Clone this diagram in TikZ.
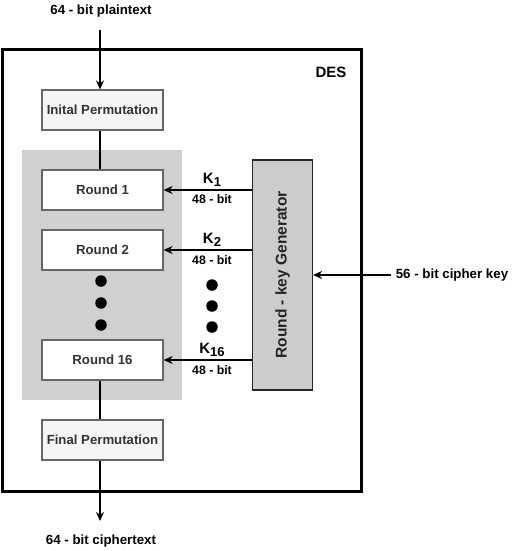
\documentclass[tikz,border=0pt]{standalone}
\usepackage{fontspec}
\setmainfont{Liberation Sans}
\usetikzlibrary{arrows.meta}
\definecolor{boxfill}{HTML}{F5F5F5}
\definecolor{boxline}{HTML}{666666}
\definecolor{boxtext}{HTML}{333333}
\definecolor{grayzone}{HTML}{D0D0D0}
\definecolor{genfill}{HTML}{CCCCCC}
\newcommand{\ksub}[1]{\raisebox{-3.5pt}{\fontsize{13}{15}\selectfont #1}}
\tikzset{
  stagebox/.style={draw=boxline, line width=1.2pt, fill=boxfill, minimum width=121pt, minimum height=40pt, inner sep=0pt, font=\fontsize{13.2}{15}\selectfont\bfseries, text=boxtext},
  roundbox/.style={stagebox, fill=white},
  conn/.style={line width=1.3pt},
  arr/.style={conn, -{Stealth[length=9pt,width=8pt,inset=3pt]}},
  lbl/.style={font=\fontsize{13.3}{15}\selectfont\bfseries, inner sep=0pt},
  klbl/.style={font=\fontsize{15}{17}\selectfont\bfseries, inner sep=0pt},
  bitlbl/.style={font=\fontsize{12.3}{14}\selectfont\bfseries, inner sep=0pt},
  dot/.style={circle, fill=black, minimum size=11.5pt, inner sep=0pt},
}
\begin{document}
\begin{tikzpicture}[x=1pt,y=-1pt]
\useasboundingbox (0,0) rectangle (513,551);
% outer DES box
\node[draw, line width=3pt, minimum width=359pt, minimum height=442pt, inner sep=0pt] (des) at (182,270.5) {};
\node[lbl, font=\fontsize{15}{17}\selectfont\bfseries] (deslbl) at (331,72) {DES};
% gray zone
\fill[grayzone] (22,150) rectangle (182,400);
% boxes
\node[stagebox] (ip) at (102.5,110) {Inital Permutation};
\node[roundbox] (r1) at (102.5,190) {Round 1};
\node[roundbox] (r2) at (102.5,250) {Round 2};
\node[roundbox] (r16) at (102.5,360) {Round 16};
\node[stagebox] (fp) at (102.5,440) {Final Permutation};
% dots left
\node[dot] (dl1) at (101,281) {};
\node[dot] (dl2) at (101,303) {};
\node[dot] (dl3) at (101,325) {};
% dots right
\node[dot] (dr1) at (212,285) {};
\node[dot] (dr2) at (212,306) {};
\node[dot] (dr3) at (212,327) {};
% generator
\node[draw=black!85, line width=1.2pt, fill=genfill, minimum width=60pt, minimum height=230pt, inner sep=0pt] (gen) at (282.5,275) {};
\node[lbl, rotate=90, font=\fontsize{15.5}{17}\selectfont\bfseries, text=boxtext!70!black] (genlbl) at (gen.center) {Round - key Generator};
% texts outside
\node[lbl] (pt) at (101,11) {64 - bit plaintext};
\node[lbl] (ct) at (101,541) {64 - bit ciphertext};
\node[lbl] (ck) at (452,275) {56 - bit cipher key};
\coordinate (ptend) at (100,30);
\coordinate (ctend) at (100,521);
\coordinate (ckend) at (391,275);
% connectors
\draw[arr] (ptend) -- (ip.north -| ptend);
\draw[conn] (ip.south -| ptend) -- (r1.north -| ptend);
\draw[conn] (r16.south -| ptend) -- (fp.north -| ptend);
\draw[arr] (fp.south -| ctend) -- (ctend);
\draw[arr] (ckend) -- (gen.east |- ckend);
\draw[arr] (gen.west |- r1) -- (r1.east);
\draw[arr] (gen.west |- r2) -- (r2.east);
\draw[arr] (gen.west |- r16) -- (r16.east);
% key labels
\node[klbl] (k1) at (212,180) {K\ksub{1}};
\node[bitlbl] (b1) at (212,199) {48 - bit};
\node[klbl] (k2) at (212,240) {K\ksub{2}};
\node[bitlbl] (b2) at (212,260) {48 - bit};
\node[klbl] (k16) at (212,350) {K\ksub{16}};
\node[bitlbl] (b16) at (212,370) {48 - bit};
\end{tikzpicture}
\end{document}
